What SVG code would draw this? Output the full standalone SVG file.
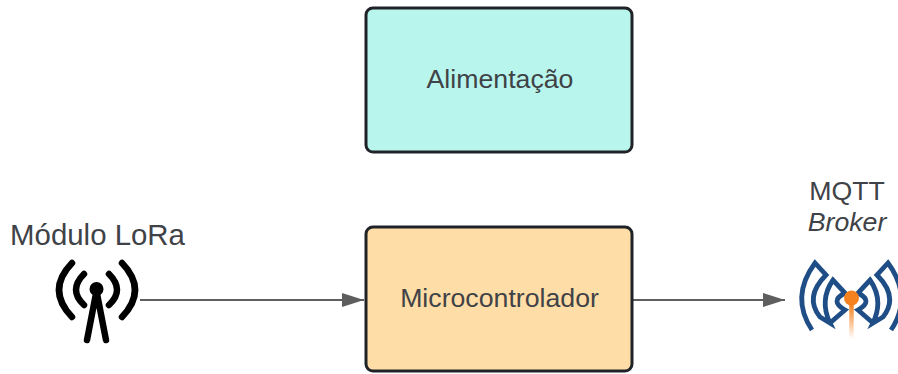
<svg xmlns="http://www.w3.org/2000/svg" width="898" height="374" viewBox="0 0 898 374">
<style>
text{font-family:"Liberation Sans",Arial,sans-serif;font-size:26.700px;fill:#3f4347;text-anchor:middle}
.box{stroke:#1f2328;stroke-width:3}
.conn{stroke:#5e5e5e;stroke-width:2;fill:none;marker-end:url(#arr)}
.ant{stroke:#000;stroke-width:6.500;fill:none;stroke-linecap:round;stroke-linejoin:round}
.bro{stroke:#1f4e87;stroke-width:4.800;fill:none;stroke-linejoin:miter}
</style>
<defs>
<marker id="arr" markerUnits="userSpaceOnUse" markerWidth="24" markerHeight="16" refX="22" refY="8" orient="auto"><path d="M0 1L22 8L0 15Z" fill="#5e5e5e"/></marker>
<linearGradient id="fade" gradientUnits="userSpaceOnUse" x1="0" y1="305" x2="0" y2="339"><stop offset="0" stop-color="#f5821f"/><stop offset="1" stop-color="#f5821f" stop-opacity="0"/></linearGradient>
<path id="wing" d="M812 330Q790 297 815 263L826 275Q804 297 820 317L830 323Q819 300 833 280L845 293Q829 301 845 310L830 323"/>
</defs>
<rect width="898" height="374" fill="#fff"/>
<g id="connectors">
<path class="conn" d="M140 300H364"/>
<path class="conn" d="M633 300H785"/>
</g>
<g id="alimentacao"><rect class="box" x="366" y="8" width="266" height="144" rx="7" fill="#b8f5ec"/><text x="500" y="88">Alimentação</text></g>
<g id="microcontrolador"><rect class="box" x="366" y="227" width="266" height="144" rx="7" fill="#ffdda6"/><text x="499.500" y="307">Microcontrolador</text></g>
<g id="modulo-lora"><text x="97.500" y="245" style="font-size:29.400px">Módulo LoRa</text>
<g class="ant">
<path d="M72 263Q46 290 72 317"/><path d="M122 263Q148 290 122 317"/>
<path d="M84 274Q68 290 84 305"/><path d="M109 274Q125 290 109 305"/>
<path d="M96.500 291L87 340M96.500 291L106 340"/>
</g><circle cx="96.500" cy="289" r="7"/></g>
<g id="mqtt-broker"><text x="847" y="200">MQTT</text><text x="847" y="231" font-style="italic">Broker</text>
<use href="#wing" class="bro"/>
<use href="#wing" class="bro" transform="translate(1703 0) scale(-1 1)"/>
<path d="M851.500 300V339" stroke="url(#fade)" stroke-width="4.500" fill="none"/>
<circle cx="851.500" cy="298" r="7.500" fill="#f5821f"/></g>
</svg>
